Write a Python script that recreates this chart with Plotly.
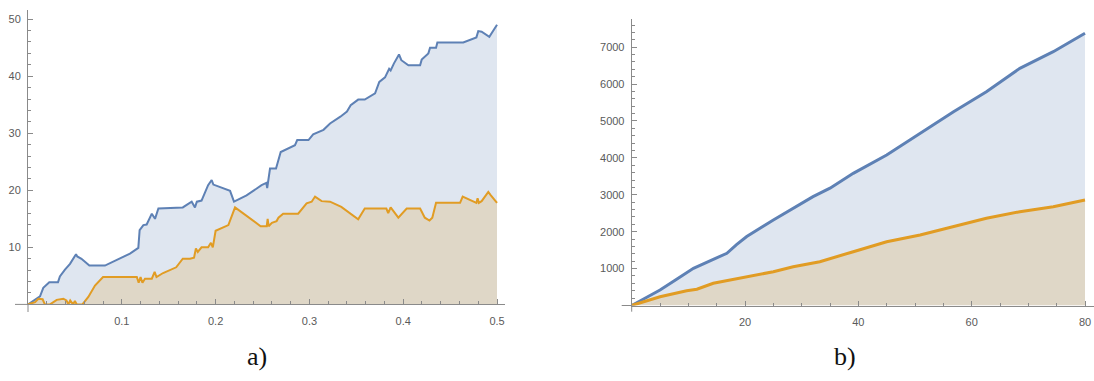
import plotly.graph_objects as go

# ---------------- data: panel a) ----------------
a_upper_x = [0, 0.0128, 0.0163, 0.0227, 0.032, 0.034, 0.0394, 0.0448, 0.0512, 0.0525, 0.057,
             0.0654, 0.082, 0.1087, 0.1176, 0.119, 0.123, 0.1265, 0.132, 0.1354, 0.139, 0.165,
             0.1745, 0.178, 0.180, 0.185, 0.192, 0.1958, 0.1976, 0.2154, 0.2196, 0.233, 0.249,
             0.254, 0.255, 0.256, 0.258, 0.2644, 0.2694, 0.2846, 0.287, 0.299, 0.304, 0.315,
             0.322, 0.333, 0.340, 0.344, 0.352, 0.359, 0.370, 0.3745, 0.3806, 0.385, 0.3866,
             0.390, 0.3955, 0.398, 0.4055, 0.418, 0.4197, 0.4268, 0.4286, 0.435, 0.4364, 0.464,
             0.478, 0.480, 0.4836, 0.4918, 0.5]
a_upper_y = [0, 1.4, 2.9, 3.9, 3.9, 4.9, 6.1, 7.1, 8.8, 8.4, 8.0,
             6.8, 6.8, 8.9, 9.9, 13.0, 13.9, 14.0, 15.9, 15.0, 16.8, 17.0,
             18.0, 17.0, 18.0, 18.2, 20.9, 21.8, 21.0, 19.9, 18.0, 19.1, 20.9,
             21.3, 20.4, 21.6, 23.8, 23.8, 26.7, 27.9, 28.8, 28.8, 29.8, 30.6,
             31.7, 32.9, 33.8, 34.9, 35.9, 35.9, 37.0, 39.0, 39.8, 41.3, 41.0,
             42.2, 43.8, 42.8, 41.9, 41.9, 42.9, 44.0, 45.0, 45.0, 45.9, 45.9,
             46.8, 47.9, 47.8, 46.9, 49.0]

a_lower_x = [0, 0.0075, 0.011, 0.0156, 0.018, 0.0235, 0.0306, 0.0377, 0.041, 0.043, 0.045,
             0.048, 0.050, 0.052, 0.058, 0.0643, 0.0714, 0.080, 0.116, 0.118, 0.120, 0.122,
             0.1247, 0.132, 0.135, 0.137, 0.144, 0.158, 0.165, 0.1727, 0.177, 0.179, 0.181,
             0.185, 0.192, 0.195, 0.197, 0.200, 0.2136, 0.2207, 0.248, 0.2545, 0.2555, 0.2565,
             0.260, 0.265, 0.267, 0.272, 0.288, 0.297, 0.3024, 0.306, 0.313, 0.322, 0.334,
             0.352, 0.359, 0.382, 0.384, 0.3866, 0.3948, 0.4037, 0.418, 0.423, 0.428, 0.431,
             0.435, 0.4606, 0.4634, 0.478, 0.4793, 0.4806, 0.4836, 0.4907, 0.493, 0.5]
a_lower_y = [0, 0.4, 1.0, 0.9, 0, 0, 0.8, 1.0, 0.7, 0, 0.7,
             0, 0.6, 0, 0, 1.3, 3.3, 4.8, 4.8, 3.8, 4.8, 3.8,
             4.5, 4.5, 5.7, 4.8, 5.5, 6.5, 8.0, 8.0, 8.2, 9.8, 9.2,
             10.0, 10.0, 10.8, 10.0, 12.9, 13.9, 17.0, 13.7, 13.7, 15.0, 13.7,
             14.3, 14.6, 15.2, 15.9, 15.9, 17.7, 18.0, 18.9, 18.1, 18.0, 17.1,
             14.9, 16.8, 16.8, 16.0, 17.0, 15.2, 16.8, 16.8, 15.2, 14.7, 15.2,
             17.8, 17.8, 18.9, 17.8, 18.6, 17.8, 18.1, 19.7, 19.2, 17.8]

# ---------------- data: panel b) ----------------
b_upper_x = [0, 2.5, 5, 8, 10.9, 14.4, 16.8, 18.5, 20.3, 25, 28.5, 32, 35, 39.1, 45,
             50.9, 56.8, 62.6, 68.5, 74.4, 80]
b_upper_y = [0, 210, 420, 720, 1008, 1250, 1414, 1650, 1870, 2317, 2634, 2949, 3180, 3582, 4079,
             4667, 5252, 5794, 6428, 6878, 7377]

b_lower_x = [0, 5, 9.7, 11.5, 14.4, 20.3, 25, 28.5, 33.2, 39.1, 45, 50.9, 56.8, 62.6,
             68.5, 74.4, 80]
b_lower_y = [0, 238, 400, 440, 602, 780, 916, 1051, 1187, 1458, 1729, 1911, 2136, 2363,
             2542, 2677, 2859]

a_xticks = [0.1, 0.2, 0.3, 0.4, 0.5]
a_yticks = [10, 20, 30, 40, 50]
b_xticks = [20, 40, 60, 80]
b_yticks = [1000, 2000, 3000, 4000, 5000, 6000, 7000]
captions = ["a)", "b)"]

# ---------------- styling ----------------
W, H = 1094, 381
BLUE = "#5E81B5"
ORANGE = "#E19C24"
BLUE_FILL = "rgba(94,129,181,0.2)"
ORANGE_FILL = "rgba(225,156,36,0.2)"
AXIS_COLOR = "#8a8a8a"
TICK_FONT = dict(family="Liberation Sans, Arial, sans-serif", size=11, color="#5a5a5a")


def px_x(p):
    return p / W


def px_y(p):
    return 1 - p / H


fig = go.Figure()

for xs, ys, col, fill, ax, lw in [
    (a_upper_x, a_upper_y, BLUE, BLUE_FILL, ("x", "y"), 2),
    (a_lower_x, a_lower_y, ORANGE, ORANGE_FILL, ("x", "y"), 2),
    (b_upper_x, b_upper_y, BLUE, BLUE_FILL, ("x2", "y2"), 3),
    (b_lower_x, b_lower_y, ORANGE, ORANGE_FILL, ("x2", "y2"), 3),
]:
    fig.add_trace(go.Scatter(
        x=xs, y=ys, mode="lines", xaxis=ax[0], yaxis=ax[1],
        line=dict(color=col, width=lw), fill="tozeroy", fillcolor=fill,
        showlegend=False, hoverinfo="skip",
    ))


def axis_style(ticks, minor_step, rng, domain, anchor, standoff):
    return dict(
        range=rng, domain=domain, anchor=anchor,
        tickmode="array", tickvals=ticks, ticks="inside", ticklen=5, tickwidth=1,
        tickcolor=AXIS_COLOR, showline=True, linecolor=AXIS_COLOR, linewidth=1,
        showgrid=False, zeroline=False, tickfont=TICK_FONT,
        ticklabelstandoff=standoff,
        minor=dict(dtick=minor_step, tick0=0, ticks="inside", ticklen=3,
                   tickcolor=AXIS_COLOR, showgrid=False),
    )


# panel a) geometry (pixel positions of origin and far ends)
a_x0, a_x1, a_y0, a_y1 = 28, 505, 304.4, 10
# panel b)
b_x0, b_x1, b_y0, b_y1 = 631.7, 1093.5, 305.5, 19

fig.update_layout(
    width=W, height=H, margin=dict(l=0, r=0, t=0, b=0),
    paper_bgcolor="white", plot_bgcolor="white",
    xaxis=axis_style(a_xticks, 0.02, [0, 0.5085], [px_x(a_x0), px_x(a_x1)], "y", 6),
    yaxis=axis_style(a_yticks, 2, [0, 51.6], [px_y(a_y0), px_y(a_y1)], "x", 4),
    xaxis2=axis_style(b_xticks, 5, [0, 81.5], [px_x(b_x0), px_x(b_x1)], "y2", 6),
    yaxis2=axis_style(b_yticks, 200, [0, 7764], [px_y(b_y0), px_y(b_y1)], "x2", 4),
)

# short axis stubs past the origin
stubs = [
    (15, a_y0, a_x0, a_y0), (a_x0, a_y0, a_x0, 312),
    (621.7, b_y0, b_x0, b_y0), (b_x0, b_y0, b_x0, 311.7),
]
for x0, y0, x1, y1 in stubs:
    fig.add_shape(type="line", xref="paper", yref="paper",
                  x0=px_x(x0), y0=px_y(y0), x1=px_x(x1), y1=px_y(y1),
                  line=dict(color=AXIS_COLOR, width=1))

for text, cx in zip(captions, [257, 845]):
    fig.add_annotation(text=text, xref="paper", yref="paper", x=px_x(cx), y=px_y(356),
                       xanchor="center", yanchor="middle", showarrow=False,
                       font=dict(family="Liberation Serif, DejaVu Serif, serif", size=26,
                                 color="#111"))

fig.write_html("out.html")
